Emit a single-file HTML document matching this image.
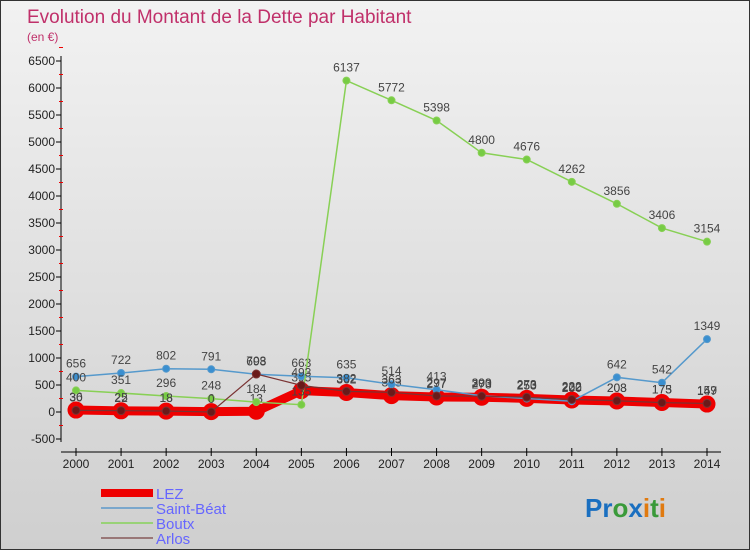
<!DOCTYPE html>
<html><head><meta charset="utf-8"><style>
body{margin:0;width:750px;height:550px;overflow:hidden;font-family:"Liberation Sans",sans-serif}
#wrap{position:relative;width:748px;height:548px;border:1px solid #333;background:linear-gradient(#f2f2f2,#cfcfcf)}
svg{position:absolute;left:0;top:0}
</style></head><body>
<div id="wrap">
<svg id="chart" width="750" height="550">
<text x="26" y="22" font-size="19" fill="#c0306a">Evolution du Montant de la Dette par Habitant</text>
<text x="26" y="40" font-size="12" fill="#c0306a">(en €)</text>
<g id="axes"></g><g id="series"></g>
<g>
<line x1="100" y1="492" x2="152" y2="492" stroke="#ee0000" stroke-width="8"/>
<text x="155" y="498" font-size="15" fill="#6666ff">LEZ</text>
<line x1="100" y1="507" x2="152" y2="507" stroke="#7aa7cc" stroke-width="2"/>
<text x="155" y="513" font-size="15" fill="#6666ff">Saint-Béat</text>
<line x1="100" y1="522" x2="152" y2="522" stroke="#99d277" stroke-width="2"/>
<text x="155" y="528" font-size="15" fill="#6666ff">Boutx</text>
<line x1="100" y1="537" x2="152" y2="537" stroke="#997777" stroke-width="2"/>
<text x="155" y="543" font-size="15" fill="#6666ff">Arlos</text>
</g>
<text x="584" y="516" font-size="26" font-weight="bold"><tspan fill="#1a6fc0">Pr</tspan><tspan fill="#3a9a3a">o</tspan><tspan fill="#1a6fc0">x</tspan><tspan fill="#e07a10">i</tspan><tspan fill="#3a9a3a">t</tspan><tspan fill="#e07a10">i</tspan></text>
</svg></div>
<script>
const years=["2000","2001","2002","2003","2004","2005","2006","2007","2008","2009","2010","2011","2012","2013","2014"];
const yTicks=[-500,0,500,1000,1500,2000,2500,3000,3500,4000,4500,5000,5500,6000,6500];
const lez=[36,22,16,6,13,395,362,303,277,273,253,222,203,175,147];
const saintBeat=[656,722,802,791,698,663,635,514,413,300,250,200,642,542,1349];
const boutx=[400,351,296,248,184,135,6137,5772,5398,4800,4676,4262,3856,3406,3154];
const arlos=[30,25,18,0,703,493,382,363,297,293,273,232,208,173,159];
const NS="http://www.w3.org/2000/svg";
const X=i=>75+i*(706-75)/14;
const Y=v=>411-v*0.054;
function mk(t,a,p){const e=document.createElementNS(NS,t);for(const k in a)e.setAttribute(k,a[k]);p.appendChild(e);return e;}
const ax=document.getElementById('axes');
const yl=mk('line',{x1:60,y1:55,x2:60,y2:441,stroke:'#000'},ax);


const xl=mk('line',{x1:60,y1:451,x2:720,y2:451,stroke:'#000'},ax);


yTicks.forEach(v=>{
 mk('line',{x1:55,y1:Y(v),x2:60,y2:Y(v),stroke:'#000'},ax);
 mk('line',{x1:58,y1:Y(v+250),x2:62,y2:Y(v+250),stroke:'#e00'},ax);
 const t=mk('text',{x:54,y:Y(v)+4,'font-size':12,'text-anchor':'end',fill:'#222'},ax);t.textContent=v;
 
 
});
years.forEach((y,i)=>{
 mk('line',{x1:X(i),y1:447,x2:X(i),y2:455,stroke:'#000'},ax);
 const t=mk('text',{x:X(i),y:467,'font-size':12,'text-anchor':'middle',fill:'#222'},ax);t.textContent=y;
 
 
});
const sg=document.getElementById('series');
function draw(name,vals,color,w,r,fill){
 const g=mk('g',{},sg);
 
 
 const p=mk('polyline',{points:vals.map((v,i)=>X(i)+','+Y(v)).join(' '),fill:'none',stroke:color,'stroke-width':w},g);
 
 
 vals.forEach((v,i)=>{
  const c=mk('circle',{cx:X(i),cy:Y(v),r:r,fill:fill,stroke:color,'stroke-width':name=='lez'?3:1},g);
  
  
  const t=mk('text',{x:X(i),y:Y(v)-9,'font-size':12,'text-anchor':'middle',fill:'#444'},g);t.textContent=v;
  
  
 });
}
draw('lez',lez,'#ee0000',9,7,'#ee0000');
draw('saint-beat',saintBeat,'#5599cc',1.5,3.5,'#3a8fd0');
draw('boutx',boutx,'#88d055',1.5,3.5,'#77cc44');
draw('arlos',arlos,'#7a3333',1.2,4,'#6a1a1a');
</script>
</body></html>
